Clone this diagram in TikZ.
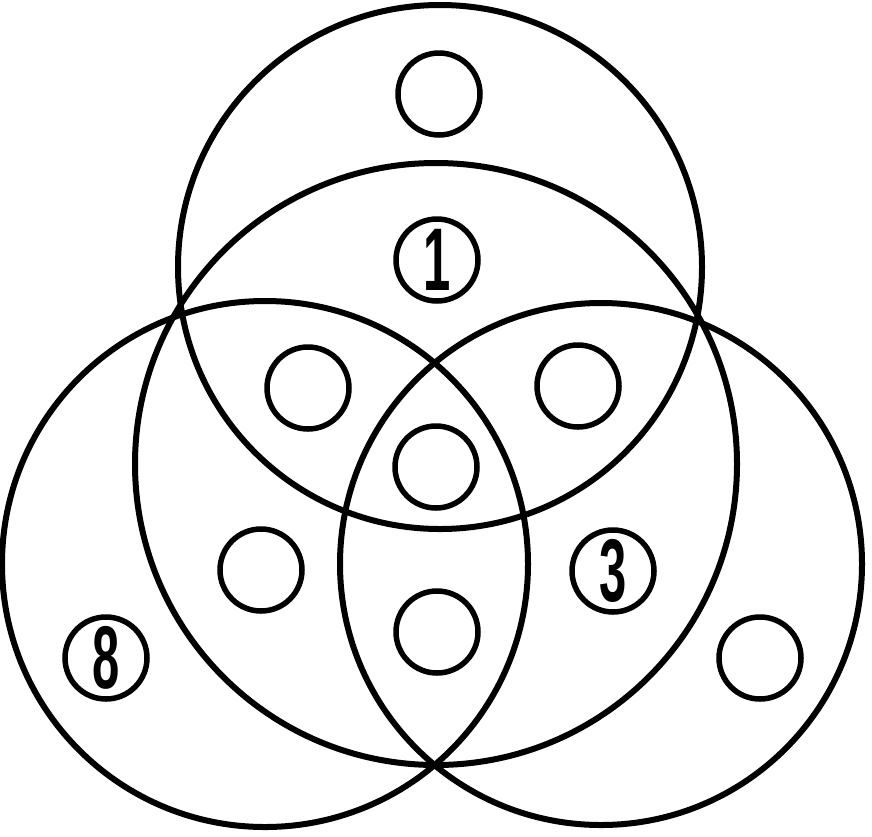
\documentclass[tikz,border=0pt]{standalone}
\usepackage{fontspec}
\setmainfont{Liberation Sans}
\begin{document}
\begin{tikzpicture}[x=1pt,y=-1pt,
  bigring/.style={draw=black,line width=6pt},
  dot/.style={draw=black,line width=5.5pt,circle,minimum size=82pt,inner sep=0pt},
  digit/.style={font=\fontsize{89}{89}\selectfont\bfseries,xscale=0.55,inner sep=0pt}]
\useasboundingbox (0,0) rectangle (872,836);
% large circles
\draw[bigring] (440,267) circle[radius=262];
\draw[bigring] (436,464) circle[radius=301];
\draw[bigring] (265,564) circle[radius=263];
\draw[bigring] (601,564) circle[radius=261];
% small circles
\node[dot] (s1) at (439,94) {};
\node[dot] (n1) at (437,260) {};
\node[dot] (s2) at (308,388) {};
\node[dot] (s3) at (578,386) {};
\node[dot] (s4) at (436,467) {};
\node[dot] (s5) at (261,570) {};
\node[dot] (n3) at (613,571) {};
\node[dot] (s6) at (437,632) {};
\node[dot] (n8) at (106,658) {};
\node[dot] (s7) at (760,658) {};
% digits
\node[digit] (d1) at (n1.center) {1};
\node[digit] (d3) at (n3.center) {3};
\node[digit] (d8) at (n8.center) {8};
\end{tikzpicture}
\end{document}
